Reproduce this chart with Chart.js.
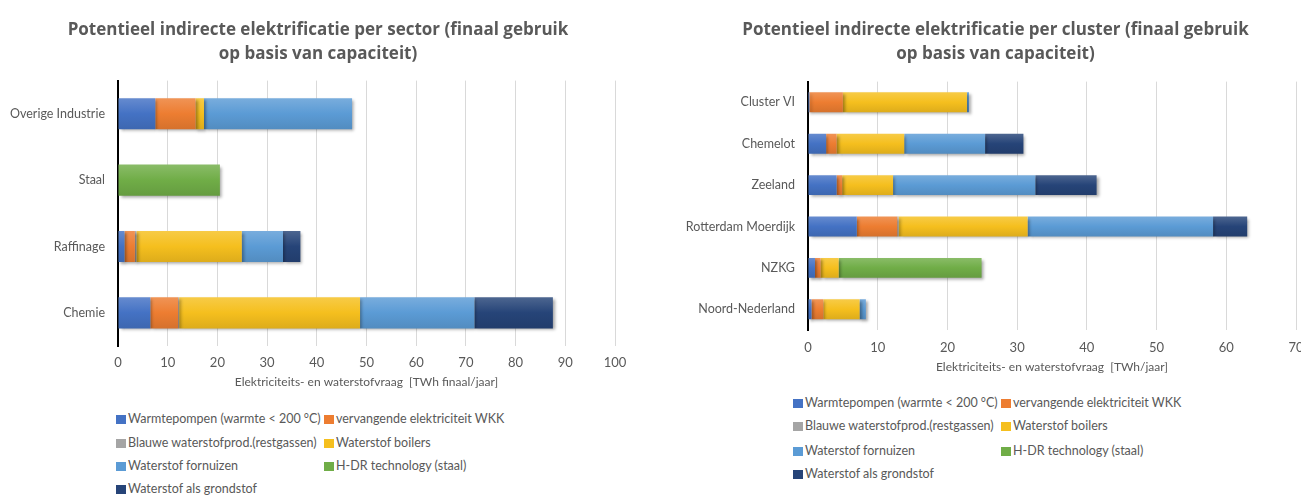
<!DOCTYPE html>
<html>
<head>
<meta charset="utf-8">
<script src="https://cdn.jsdelivr.net/npm/chart.js@4.4.1/dist/chart.umd.min.js"></script>
<style>
  body { margin: 0; width: 1301px; height: 498px; overflow: hidden; background: #fff; position: relative; font-family: Lato, "Open Sans", sans-serif; }
  canvas { position: absolute; top: 0; }
  #sectorChart { left: 0; }
  #clusterChart { left: 650px; }
  .legend-item { position: absolute; font-size: 12.5px; color: #595959; white-space: nowrap; line-height: 16px; }
  .legend-box { display: inline-block; width: 10px; height: 9px; margin-right: 2px; vertical-align: -1px; }
</style>
</head>
<body>
<canvas id="sectorChart" width="636" height="394"></canvas>
<canvas id="clusterChart" width="691" height="379"></canvas>
<div id="sectorLegend"></div>
<div id="clusterLegend"></div>
<script>
// Series names and colours (same for both charts)
const seriesNames = [
  "Warmtepompen (warmte < 200 °C)",
  "vervangende elektriciteit WKK",
  "Blauwe waterstofprod.(restgassen)",
  "Waterstof boilers",
  "Waterstof fornuizen",
  "H-DR technology (staal)",
  "Waterstof als grondstof"
];
const seriesColors = ["#4472C4", "#ED7D31", "#A5A5A5", "#F5BF1E", "#5B9BD5", "#70AD47", "#264478"];

// Left chart: per sector (TWh finaal/jaar)
const sectorLabels = ["Overige Industrie", "Staal", "Raffinage", "Chemie"];
const sectorWarmtepompen = [7.5, 0, 1.3, 6.5];
const sectorWKK = [8.1, 0, 2.1, 5.6];
const sectorBlauw = [0, 0, 0.3, 0.2];
const sectorBoilers = [1.7, 0, 21.2, 36.4];
const sectorFornuizen = [29.8, 0, 8.3, 23.0];
const sectorHDR = [0, 20.5, 0, 0];
const sectorGrondstof = [0, 0, 3.5, 15.8];
const sectorTicks = [0, 100];

// Right chart: per cluster (TWh/jaar)
const clusterLabels = ["Cluster VI", "Chemelot", "Zeeland", "Rotterdam Moerdijk", "NZKG", "Noord-Nederland"];
const clusterWarmtepompen = [0.2, 2.6, 4.1, 7.0, 1.0, 0.5];
const clusterWKK = [4.8, 1.5, 0.8, 5.8, 0.8, 1.7];
const clusterBlauw = [0, 0, 0, 0.2, 0, 0];
const clusterBoilers = [17.8, 9.7, 7.3, 18.5, 2.6, 5.2];
const clusterFornuizen = [0.3, 11.6, 20.4, 26.6, 0, 0.9];
const clusterHDR = [0, 0, 0, 0, 20.5, 0];
const clusterGrondstof = [0, 5.5, 8.8, 4.9, 0, 0];
const clusterTicks = [0, 70];

const textColor = "#595959";
const fontFamily = "Lato, 'Open Sans', sans-serif";
const titleFamily = "'Open Sans', Lato, sans-serif";

// Mix a hex colour with white (amt > 0) or black (amt < 0)
function shade(hex, amt) {
  const n = parseInt(hex.slice(1), 16);
  const target = amt > 0 ? 255 : 0;
  const a = Math.abs(amt);
  const r = Math.round(((n >> 16) & 255) * (1 - a) + target * a);
  const g = Math.round(((n >> 8) & 255) * (1 - a) + target * a);
  const b = Math.round((n & 255) * (1 - a) + target * a);
  return `rgb(${r}, ${g}, ${b})`;
}

// Vertical gradient over each bar, like the Excel bars
function barFill(color, barPct) {
  return function (context) {
    const chart = context.chart;
    const y = chart.scales.y;
    if (!y || context.type !== "data" || !y.height) return color;
    const center = y.getPixelForValue(context.dataIndex);
    const half = (y.height / chart.data.labels.length) * barPct / 2;
    const grad = chart.ctx.createLinearGradient(0, center - half, 0, center + half);
    grad.addColorStop(0, shade(color, 0.18));
    grad.addColorStop(0.5, color);
    grad.addColorStop(1, shade(color, -0.1));
    return grad;
  };
}

// Soft drop shadow under the bars
const shadowPlugin = {
  id: "barShadow",
  beforeDatasetsDraw(chart) {
    const ctx = chart.ctx;
    ctx.save();
    ctx.shadowColor = "rgba(0, 0, 0, 0.35)";
    ctx.shadowBlur = 3;
    ctx.shadowOffsetX = 2;
    ctx.shadowOffsetY = 2;
  },
  afterDatasetsDraw(chart) {
    chart.ctx.restore();
  }
};

function makeDatasets(values, barPct) {
  return values.map(function (data, i) {
    return {
      label: seriesNames[i],
      data: data,
      backgroundColor: barFill(seriesColors[i], barPct),
      borderWidth: 0,
      barPercentage: barPct,
      categoryPercentage: 1
    };
  });
}

function makeChart(canvasId, cfg) {
  return new Chart(document.getElementById(canvasId), {
    type: "bar",
    data: {
      labels: cfg.labels,
      datasets: makeDatasets(cfg.values, cfg.barPct)
    },
    plugins: [shadowPlugin],
    options: {
      indexAxis: "y",
      responsive: false,
      animation: false,
      layout: { padding: 0 },
      plugins: {
        legend: { display: false },
        tooltip: { enabled: false },
        title: {
          display: true,
          text: cfg.title,
          color: textColor,
          font: { family: titleFamily, size: 17, weight: "bold", lineHeight: 1.4 },
          padding: { top: 18, bottom: cfg.titleBottom }
        }
      },
      scales: {
        x: {
          stacked: true,
          min: cfg.ticks[0],
          max: cfg.ticks[1],
          ticks: { stepSize: 10, color: textColor, font: { family: fontFamily, size: 13 }, padding: cfg.tickPad },
          grid: { color: "#D9D9D9", drawTicks: false },
          border: { display: false },
          title: {
            display: true,
            text: cfg.axisTitle,
            color: textColor,
            font: { family: fontFamily, size: 12 },
            padding: { top: 0, bottom: 5 }
          },
          afterFit(scale) {
            // fixed height, and room on the right so the title stays centred where it is
            scale.height = cfg.xHeight;
            scale.paddingLeft = 0;
            scale.paddingRight = cfg.rightGap;
          }
        },
        y: {
          stacked: true,
          ticks: { color: textColor, font: { family: fontFamily, size: 12.5 }, padding: 13 },
          grid: { display: false, drawTicks: false },
          border: { display: true, color: "#000", width: 2 },
          afterFit(scale) {
            scale.width = cfg.yWidth;
            scale.paddingTop = 0;
            scale.paddingBottom = 0;
          }
        }
      }
    }
  });
}

makeChart("sectorChart", {
  labels: sectorLabels,
  values: [sectorWarmtepompen, sectorWKK, sectorBlauw, sectorBoilers, sectorFornuizen, sectorHDR, sectorGrondstof],
  ticks: sectorTicks,
  title: ["Potentieel indirecte elektrificatie per sector (finaal gebruik", "op basis van capaciteit)"],
  axisTitle: "Elektriciteits- en waterstofvraag  [TWh finaal/jaar]",
  barPct: 0.47,
  yWidth: 118,
  rightGap: 21,
  xHeight: 48,
  titleBottom: 15,
  tickPad: 9
});

makeChart("clusterChart", {
  labels: clusterLabels,
  values: [clusterWarmtepompen, clusterWKK, clusterBlauw, clusterBoilers, clusterFornuizen, clusterHDR, clusterGrondstof],
  ticks: clusterTicks,
  title: ["Potentieel indirecte elektrificatie per cluster (finaal gebruik", "op basis van capaciteit)"],
  axisTitle: "Elektriciteits- en waterstofvraag  [TWh/jaar]",
  barPct: 0.48,
  yWidth: 158,
  rightGap: 45,
  xHeight: 49,
  titleBottom: 16,
  tickPad: 10
});

// Legends in two columns, built from the series arrays
function buildLegend(containerId, colX, rowY) {
  const container = document.getElementById(containerId);
  seriesNames.forEach(function (name, i) {
    const item = document.createElement("div");
    item.className = "legend-item";
    item.style.left = colX[i % 2] + "px";
    item.style.top = (rowY[Math.floor(i / 2)] - 8) + "px";
    const box = document.createElement("span");
    box.className = "legend-box";
    box.style.background = seriesColors[i];
    item.appendChild(box);
    item.appendChild(document.createTextNode(name));
    container.appendChild(item);
  });
}

buildLegend("sectorLegend", [116, 324], [419, 443, 466, 489]);
buildLegend("clusterLegend", [793, 1001], [403, 426, 451, 474]);
</script>
</body>
</html>
